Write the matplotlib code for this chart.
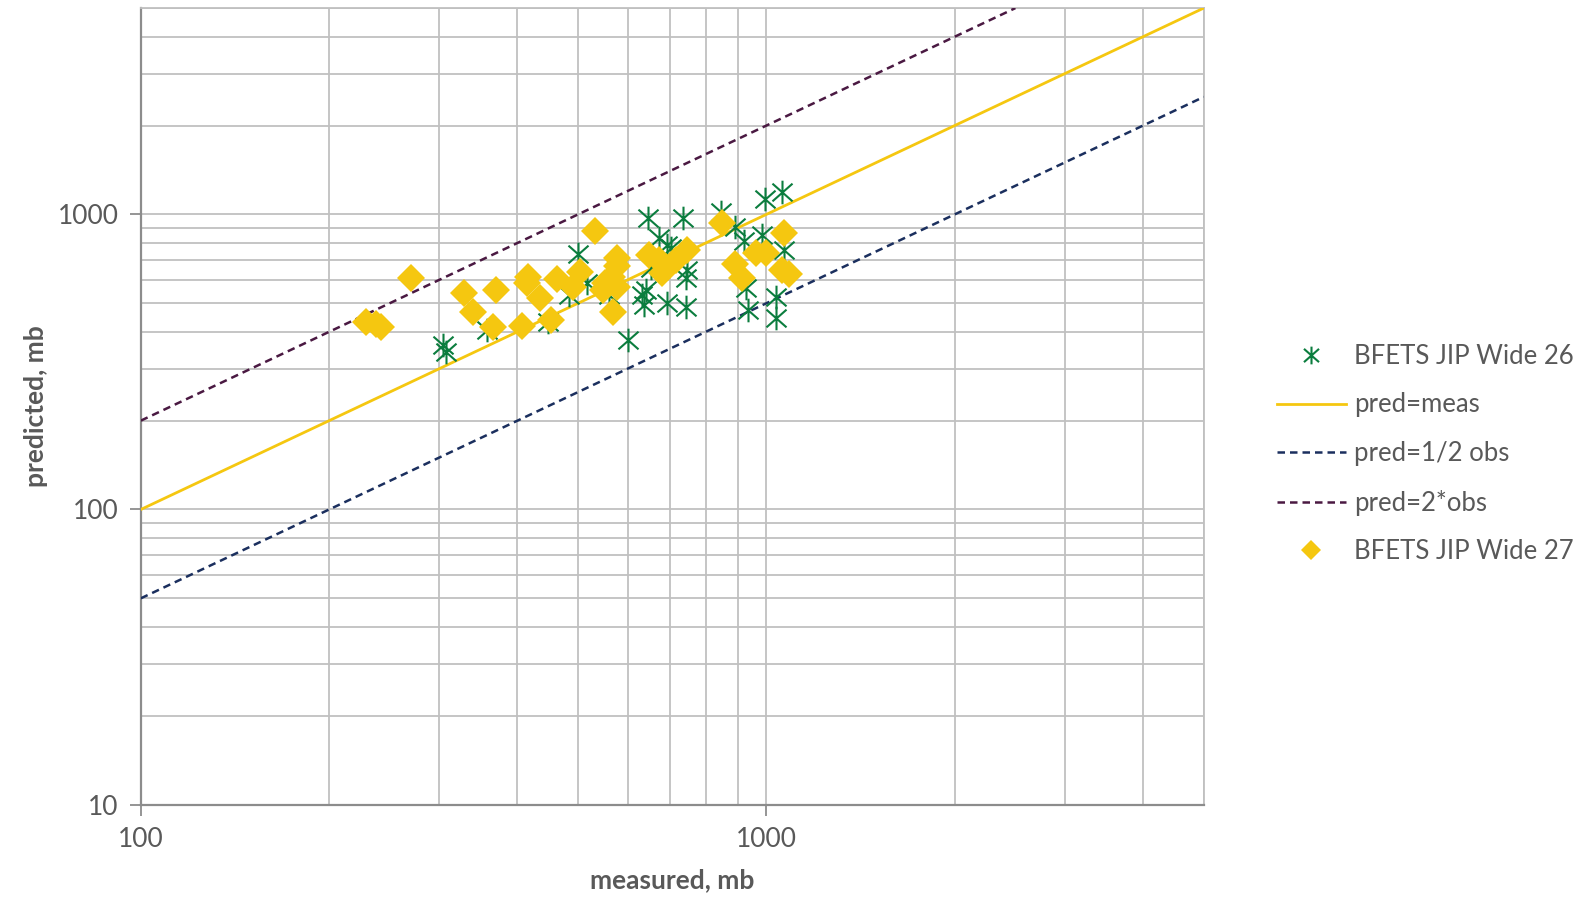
import matplotlib
matplotlib.use("Agg")
import matplotlib.pyplot as plt
import matplotlib.ticker as mticker
from matplotlib.path import Path
import numpy as np

plt.rcParams['font.family'] = ['Lato', 'DejaVu Sans']

# BFETS JIP Wide 26 (measured, predicted)
wide26_meas = [304, 308, 358, 447, 499, 484, 517, 561, 601, 647, 736, 995, 1059,
               847, 891, 921, 984, 1067, 674, 694, 704, 747, 744, 654, 642, 633,
               638, 694, 744, 928, 935, 1036, 1036]
wide26_pred = [361, 341, 405, 431, 733, 532, 585, 532, 374, 969, 969, 1124, 1187,
               1017, 905, 811, 850, 756, 831, 787, 769, 647, 608, 657, 554, 532,
               493, 501, 486, 562, 474, 524, 445]

# BFETS JIP Wide 27 (measured, predicted)
wide27_meas = [229, 238, 242, 270, 329, 339, 369, 366, 406, 416, 415, 434, 463,
               453, 490, 504, 533, 578, 567, 553, 547, 578, 569, 578, 650, 674,
               692, 681, 717, 747, 850, 891, 915, 963, 999, 1067, 1059, 1087]
wide27_pred = [431, 425, 415, 608, 541, 466, 554, 415, 418, 613, 585, 520, 603,
               438, 567, 637, 877, 711, 613, 585, 554, 567, 466, 668, 728, 700,
               662, 632, 700, 756, 934, 678, 608, 739, 739, 864, 647, 627]

# reference lines
line_x = [100, 5000]
meas_y = [100, 5000]
half_y = [50, 2500]
double_x = [100, 2500]
double_y = [200, 5000]

# excel-like star: vertical bar plus an X
star = Path([(0, -1), (0, 1), (-0.85, -0.75), (0.85, 0.75), (-0.85, 0.75), (0.85, -0.75)],
            [Path.MOVETO, Path.LINETO, Path.MOVETO, Path.LINETO, Path.MOVETO, Path.LINETO])

fig = plt.figure(figsize=(15.77, 8.99), dpi=100)
ax = fig.add_axes([0.0893, 0.105, 0.6740, 0.886])

text_col = '#595959'
grid_col = '#c0c0c0'

ax.plot(wide26_meas, wide26_pred, linestyle='none', marker=star, markersize=17,
        markeredgewidth=1.5, color='#0b7d3e', label='BFETS JIP Wide 26', zorder=4)
ax.plot(line_x, meas_y, color='#f5c710', linewidth=2, label='pred=meas', zorder=3)
ax.plot(line_x, half_y, color='#1b2f5e', linewidth=1.8, linestyle=(0, (3, 2)),
        label='pred=1/2 obs', zorder=3)
ax.plot(double_x, double_y, color='#4a1942', linewidth=1.8, linestyle=(0, (3, 2)),
        label='pred=2*obs', zorder=3)
ax.plot(wide27_meas, wide27_pred, linestyle='none', marker='D', markersize=14,
        color='#f5c710', markeredgewidth=0, label='BFETS JIP Wide 27', zorder=5)

ax.set_xscale('log')
ax.set_yscale('log')
ax.set_xlim(100, 5000)
ax.set_ylim(10, 5000)

ax.xaxis.set_major_locator(mticker.FixedLocator([100, 1000]))
ax.yaxis.set_major_locator(mticker.FixedLocator([10, 100, 1000]))
ax.xaxis.set_major_formatter(mticker.FormatStrFormatter('%d'))
ax.yaxis.set_major_formatter(mticker.FormatStrFormatter('%d'))
ax.xaxis.set_minor_locator(mticker.LogLocator(base=10, subs=np.arange(2, 10)))
ax.yaxis.set_minor_locator(mticker.LogLocator(base=10, subs=np.arange(2, 10)))
ax.xaxis.set_minor_formatter(mticker.NullFormatter())
ax.yaxis.set_minor_formatter(mticker.NullFormatter())

ax.grid(True, which='both', color=grid_col, linewidth=1.3)
ax.set_axisbelow(True)
ax.tick_params(which='minor', length=0)
ax.tick_params(which='major', length=8, width=1.3, color='#8c8c8c',
               labelsize=19, labelcolor=text_col, pad=8)

for s in ['top', 'right']:
    ax.spines[s].set_color(grid_col)
    ax.spines[s].set_linewidth(1.3)
for s in ['left', 'bottom']:
    ax.spines[s].set_color('#8c8c8c')
    ax.spines[s].set_linewidth(1.6)

ax.set_xlabel('measured, mb', fontsize=19, fontweight='bold', color=text_col, labelpad=12)
ax.set_ylabel('predicted, mb', fontsize=19, fontweight='bold', color=text_col, labelpad=7)

leg = ax.legend(loc='center left', bbox_to_anchor=(1.047, 0.44), frameon=False,
                fontsize=18.5, handlelength=2.7, labelspacing=0.92, handletextpad=0.3,
                markerscale=0.75)
for t in leg.get_texts():
    t.set_color(text_col)

fig.savefig('out.png', dpi=100)
